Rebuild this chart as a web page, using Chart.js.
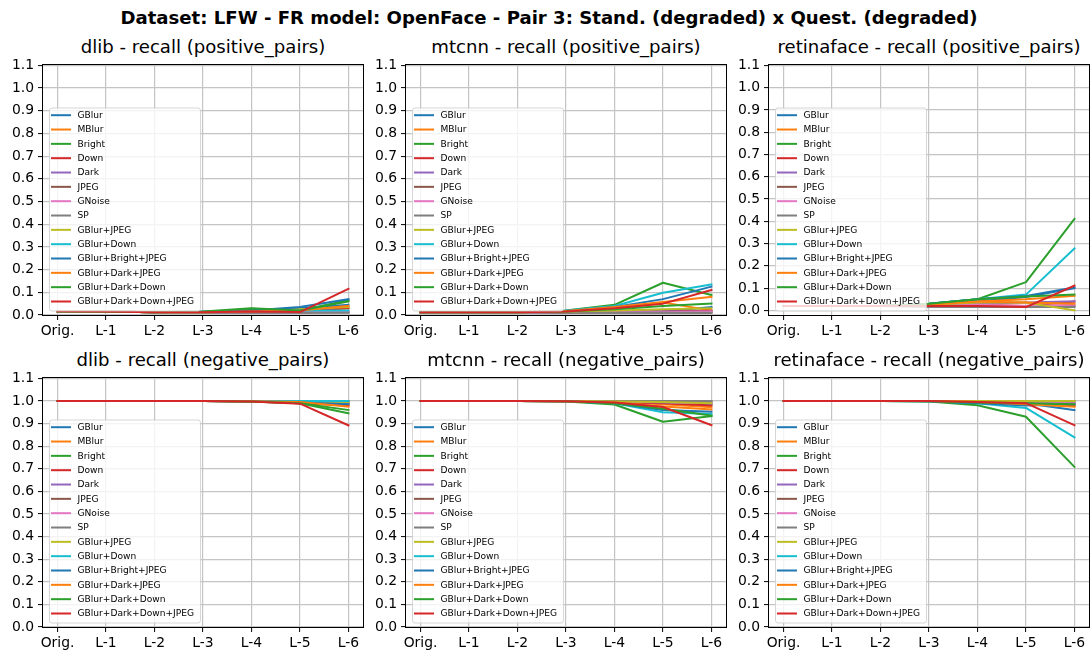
<!DOCTYPE html>
<html><head><meta charset="utf-8">
<script src="https://cdn.jsdelivr.net/npm/chart.js@4.4.0/dist/chart.umd.min.js"></script>
<style>
html,body{margin:0;padding:0;background:#fff;}
body{width:1092px;height:656px;position:relative;overflow:hidden;font-family:"DejaVu Sans",sans-serif;}
.t{position:absolute;white-space:nowrap;color:#000;transform:translate(-50%,-50%);line-height:1;}
canvas{position:absolute;}
</style></head><body>
<script>
const categories = ['Orig.','L-1','L-2','L-3','L-4','L-5','L-6'];
const yTicks = [0.0,0.1,0.2,0.3,0.4,0.5,0.6,0.7,0.8,0.9,1.0,1.1];
const seriesNames = ['GBlur','MBlur','Bright','Down','Dark','JPEG','GNoise','SP','GBlur+JPEG','GBlur+Down','GBlur+Bright+JPEG','GBlur+Dark+JPEG','GBlur+Dark+Down','GBlur+Dark+Down+JPEG'];
const seriesColors = ['#1f77b4','#ff7f0e','#2ca02c','#d62728','#9467bd','#8c564b','#e377c2','#7f7f7f','#bcbd22','#17becf','#1f77b4','#ff7f0e','#2ca02c','#d62728'];

const dlibPositive = [
  [0.017,0.015,0.012,0.012,0.015,0.030,0.045],
  [0.017,0.015,0.012,0.010,0.012,0.020,0.030],
  [0.017,0.015,0.012,0.012,0.028,0.020,0.065],
  [0.017,0.015,0.012,0.010,0.012,0.015,0.030],
  [0.017,0.015,0.012,0.010,0.010,0.012,0.015],
  [0.017,0.015,0.012,0.010,0.010,0.010,0.012],
  [0.017,0.015,0.012,0.010,0.010,0.012,0.015],
  [0.017,0.015,0.012,0.010,0.010,0.010,0.010],
  [0.017,0.015,0.012,0.012,0.015,0.025,0.035],
  [0.017,0.015,0.012,0.012,0.015,0.020,0.020],
  [0.017,0.015,0.012,0.015,0.020,0.035,0.070],
  [0.017,0.015,0.012,0.012,0.015,0.020,0.040],
  [0.017,0.015,0.012,0.015,0.030,0.020,0.060],
  [0.017,0.015,0.012,0.012,0.015,0.013,0.115]
];
const mtcnnPositive = [
  [0.012,0.012,0.012,0.012,0.015,0.015,0.035],
  [0.012,0.012,0.012,0.015,0.030,0.055,0.020],
  [0.012,0.012,0.012,0.020,0.045,0.142,0.088],
  [0.012,0.012,0.012,0.012,0.015,0.015,0.020],
  [0.012,0.012,0.012,0.012,0.012,0.015,0.015],
  [0.012,0.012,0.012,0.010,0.010,0.010,0.010],
  [0.012,0.012,0.012,0.012,0.012,0.012,0.015],
  [0.012,0.012,0.012,0.010,0.010,0.010,0.010],
  [0.012,0.012,0.012,0.015,0.020,0.025,0.030],
  [0.012,0.012,0.012,0.020,0.040,0.098,0.135],
  [0.012,0.012,0.012,0.018,0.035,0.070,0.125],
  [0.012,0.012,0.012,0.018,0.035,0.057,0.080],
  [0.012,0.012,0.012,0.015,0.025,0.040,0.050],
  [0.012,0.012,0.012,0.015,0.030,0.050,0.110]
];
const retinafacePositive = [
  [0.020,0.020,0.020,0.025,0.040,0.060,0.100],
  [0.020,0.020,0.020,0.025,0.040,0.050,0.065],
  [0.020,0.020,0.020,0.030,0.050,0.127,0.411],
  [0.020,0.020,0.020,0.020,0.025,0.020,0.040],
  [0.020,0.020,0.020,0.025,0.030,0.035,0.041],
  [0.020,0.020,0.020,0.020,0.020,0.020,0.020],
  [0.020,0.020,0.020,0.020,0.025,0.020,0.025],
  [0.020,0.020,0.020,0.015,0.015,0.015,0.015],
  [0.020,0.020,0.020,0.025,0.035,0.035,0.000],
  [0.020,0.020,0.020,0.030,0.050,0.071,0.278],
  [0.020,0.020,0.020,0.030,0.050,0.065,0.103],
  [0.020,0.020,0.020,0.025,0.040,0.035,0.030],
  [0.020,0.020,0.020,0.030,0.050,0.063,0.071],
  [0.020,0.020,0.020,0.020,0.020,0.015,0.111]
];
const dlibNegative = [
  [1.000,1.000,1.000,1.000,0.999,0.997,0.990],
  [1.000,1.000,1.000,1.000,0.999,0.995,0.978],
  [1.000,1.000,1.000,1.000,0.998,0.990,0.945],
  [1.000,1.000,1.000,1.000,0.998,0.990,0.980],
  [1.000,1.000,1.000,1.000,0.999,0.998,0.990],
  [1.000,1.000,1.000,1.000,1.000,1.000,0.998],
  [1.000,1.000,1.000,1.000,1.000,0.999,0.995],
  [1.000,1.000,1.000,1.000,1.000,1.000,1.000],
  [1.000,1.000,1.000,1.000,0.999,0.997,0.995],
  [1.000,1.000,1.000,1.000,1.000,1.000,1.000],
  [1.000,1.000,1.000,1.000,0.998,0.993,0.985],
  [1.000,1.000,1.000,1.000,0.999,0.995,0.975],
  [1.000,1.000,1.000,1.000,0.998,0.990,0.960],
  [1.000,1.000,1.000,1.000,0.997,0.988,0.892]
];
const mtcnnNegative = [
  [1.000,1.000,1.000,0.999,0.995,0.990,0.985],
  [1.000,1.000,1.000,0.999,0.995,0.985,0.972],
  [1.000,1.000,1.000,0.998,0.984,0.908,0.933],
  [1.000,1.000,1.000,0.999,0.995,0.990,0.980],
  [1.000,1.000,1.000,1.000,0.997,0.993,0.990],
  [1.000,1.000,1.000,1.000,1.000,0.999,0.998],
  [1.000,1.000,1.000,1.000,0.998,0.995,0.990],
  [1.000,1.000,1.000,1.000,1.000,1.000,0.999],
  [1.000,1.000,1.000,1.000,0.997,0.995,0.990],
  [1.000,1.000,1.000,0.999,0.990,0.950,0.942],
  [1.000,1.000,1.000,0.999,0.990,0.960,0.952],
  [1.000,1.000,1.000,0.999,0.993,0.975,0.962],
  [1.000,1.000,1.000,0.999,0.990,0.965,0.935],
  [1.000,1.000,1.000,0.999,0.993,0.973,0.893]
];
const retinafaceNegative = [
  [1.000,1.000,1.000,1.000,0.995,0.990,0.959],
  [1.000,1.000,1.000,1.000,0.995,0.990,0.977],
  [1.000,1.000,1.000,0.998,0.981,0.930,0.708],
  [1.000,1.000,1.000,1.000,0.995,0.990,0.980],
  [1.000,1.000,1.000,1.000,0.998,0.995,0.990],
  [1.000,1.000,1.000,1.000,1.000,1.000,0.998],
  [1.000,1.000,1.000,1.000,0.998,0.997,0.990],
  [1.000,1.000,1.000,1.000,1.000,1.000,0.999],
  [1.000,1.000,1.000,1.000,1.000,1.000,1.000],
  [1.000,1.000,1.000,0.999,0.990,0.969,0.839],
  [1.000,1.000,1.000,0.999,0.990,0.980,0.985],
  [1.000,1.000,1.000,1.000,0.995,0.985,0.975],
  [1.000,1.000,1.000,0.999,0.993,0.990,0.985],
  [1.000,1.000,1.000,1.000,0.995,0.990,0.893]
];

const suptitle = 'Dataset: LFW - FR model: OpenFace - Pair 3: Stand. (degraded) x Quest. (degraded)';
const panelTitles = ['dlib - recall (positive_pairs)','mtcnn - recall (positive_pairs)','retinaface - recall (positive_pairs)',
                     'dlib - recall (negative_pairs)','mtcnn - recall (negative_pairs)','retinaface - recall (negative_pairs)'];
const panelData = [dlibPositive, mtcnnPositive, retinafacePositive, dlibNegative, mtcnnNegative, retinafaceNegative];

// layout (axes boxes in page pixels)
const colX = [[43,363],[406,726],[769,1089]];
const rowY = [[63,315],[376,627]];
const FONT = '"DejaVu Sans", sans-serif';
const PADL = 45, PADT = 10, PADR = 20, PADB = 30;

function addText(txt, cx, cy, size, bold){
  const d = document.createElement('div');
  d.className = 't'; d.textContent = txt;
  d.style.left = cx+'px'; d.style.top = cy+'px';
  d.style.fontSize = size+'px';
  if (bold) d.style.fontWeight = 'bold';
  document.body.appendChild(d);
}
addText(suptitle, 549, 18, 18.1, true);

const framePlugin = {
  id: 'frame',
  afterDatasetsDraw(chart){
    const {ctx, chartArea:a} = chart;
    ctx.save();
    ctx.strokeStyle = '#000'; ctx.lineWidth = 1;
    ctx.strokeRect(Math.round(a.left)-0.5, Math.round(a.top)-0.5, Math.round(a.right-a.left)+1, Math.round(a.bottom-a.top)+1);
    ctx.restore();
  }
};
const legendPlugin = {
  id: 'inlegend',
  afterDraw(chart){
    const {ctx, chartArea:a} = chart;
    const fs = 9.1;
    ctx.save();
    ctx.font = fs+'px '+FONT;
    const tw = Math.max(...seriesNames.map(n=>ctx.measureText(n).width));
    const w = 28.5 + tw + 6;
    const h = 203;
    const left = a.left + 6, bottom = a.bottom - 4.5, top = bottom - h;
    ctx.beginPath();
    ctx.roundRect(left+0.5, top+0.5, w, h, 2.5);
    ctx.fillStyle = 'rgba(255,255,255,0.8)';
    ctx.fill();
    ctx.strokeStyle = 'rgba(204,204,204,0.8)';
    ctx.lineWidth = 1;
    ctx.stroke();
    const step = (h - 16.7) / 13;
    seriesNames.forEach((n,i)=>{
      const y = top + 7.7 + i*step;
      ctx.strokeStyle = seriesColors[i];
      ctx.lineWidth = 2;
      ctx.beginPath(); ctx.moveTo(left+2, y); ctx.lineTo(left+22, y); ctx.stroke();
      ctx.fillStyle = '#000';
      ctx.textBaseline = 'middle'; ctx.textAlign = 'left';
      ctx.fillText(n, left+28.5, y+0.5);
    });
    ctx.restore();
  }
};

panelData.forEach((series, p)=>{
  const r = Math.floor(p/3), c = p%3;
  const [x0,x1] = colX[c], [y0,y1] = rowY[r];
  const bw = x1-x0, bh = y1-y0;
  addText(panelTitles[p], (x0+x1)/2, y0-16, 18.1, false);
  const cv = document.createElement('canvas');
  cv.width = bw+PADL+PADR; cv.height = bh+PADT+PADB;
  cv.style.left = (x0-PADL)+'px'; cv.style.top = (y0-PADT)+'px';
  document.body.appendChild(cv);
  const all = series.flat();
  const lo = Math.min(...all), hi = Math.max(...all), m = 0.05*(hi-lo);
  const ymin = Math.min(0, lo-m), ymax = Math.max(1.1, hi+m);
  const tickFont = {family: FONT, size: 13.9};
  new Chart(cv.getContext('2d'), {
    type: 'line',
    data: {
      datasets: series.map((vals,i)=>({
        label: seriesNames[i],
        data: vals.map((v,k)=>({x:k, y:v})),
        borderColor: seriesColors[i],
        backgroundColor: seriesColors[i],
        borderWidth: 2,
        pointRadius: 0,
        tension: 0,
        fill: false,
        borderJoinStyle: 'round',
        borderCapStyle: 'square',
        order: seriesNames.length - i
      }))
    },
    options: {
      responsive: false, animation: false, devicePixelRatio: 1,
      layout: {padding: {left:0, top:PADT, right:PADR, bottom:0}},
      plugins: {legend:{display:false}, tooltip:{enabled:false}, title:{display:false}},
      scales: {
        x: {
          type:'linear', min:-0.3, max:6.3,
          afterBuildTicks: s=>{ s.ticks = categories.map((_,i)=>({value:i})); },
          afterFit: s=>{ s.height = PADB; },
          ticks: {callback: v=>categories[v], color:'#000', font: tickFont, padding:3, maxRotation:0, autoSkip:false},
          grid: {color:'#c4c4c4', lineWidth:1.2, tickColor:'#000', tickLength:5, tickWidth:1},
          border: {display:false}
        },
        y: {
          type:'linear', min:ymin, max:ymax,
          afterBuildTicks: s=>{ s.ticks = yTicks.map(v=>({value:v})); },
          afterFit: s=>{ s.width = PADL; },
          ticks: {callback: v=>Number(v).toFixed(1), color:'#000', font: tickFont, padding:4, autoSkip:false},
          grid: {color:'#c4c4c4', lineWidth:1.2, tickColor:'#000', tickLength:5, tickWidth:1},
          border: {display:false}
        }
      }
    },
    plugins: [framePlugin, legendPlugin]
  });
});
</script>
</body></html>
